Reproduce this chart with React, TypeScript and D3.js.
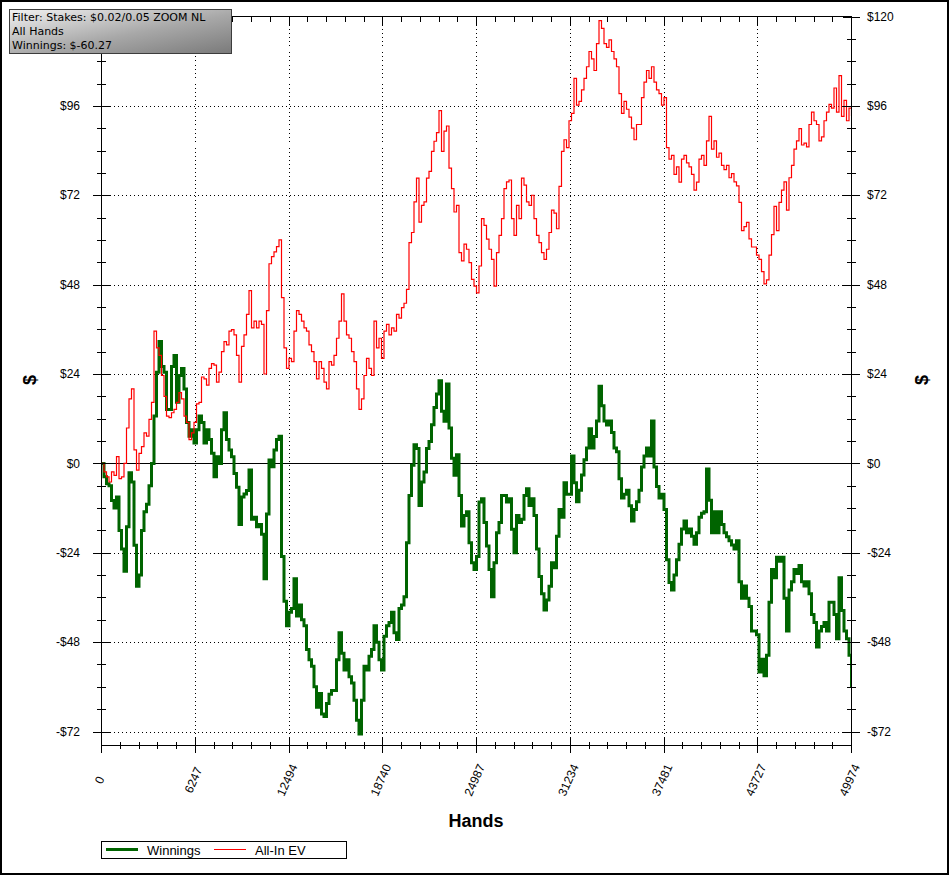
import React from "react";
import * as d3 from "d3";

const TOTAL_HANDS = 49974;
const X_TICKS = [0, 6247, 12494, 18740, 24987, 31234, 37481, 43727, 49974];
const Y_TICKS = [-72, -48, -24, 0, 24, 48, 72, 96, 120];

const WINNINGS = [
  0,
  -3.6, -5.5, -6, -10, -12, -9, -18, -23, -29, -17, -2.5, -5, -22, -33, -30, -18, -13, -11, -6, 0,
  12.7, 24.5, 32.7, 26, 24.5, 14.5, 14.5, 26, 29, 16.4, 23.6, 25.5, 20, 11, 7.3, 9, 5.5, 9, 12.7, 11,
  5.5, 9, 6.4, 2.7, -3.6, 1.8, 0, 9, 13.6, 6.4, 3.6, 1.8, -2.7, -6.4, -16.4, -9, -8.2, -7.3, -1.8, -15,
  -14.5, -17, -16.4, -19, -31, -13.6, 0.9, -0.9, 3.6, 6.4, 7.3, -25, -37, -43.6, -40, -39, -31, -41, -38, -42,
  -43.6, -50, -52.7, -54.5, -60, -65.5, -61.8, -67.3, -68, -64.5, -62, -61, -61, -52.7, -45.5, -51, -55.5, -52.7, -57.3, -59,
  -63.6, -69, -72.7, -63.6, -54.5, -55.5, -51.8, -50, -43.6, -48, -52.7, -55.5, -46.4, -43.6, -42.7, -40, -45.5, -47.3, -39, -38,
  -35.8, -21.3, -8.6, -0.5, 5, 4, -11.3, -5, -2.3, 4, 5.9, 10.4, 15, 18.6, 22.2, 14, 11.3, 21.3, 9.5, 1.4,
  -3.2, 2.3, -8.6, -16.8, -14, -13, -21.3, -26.7, -28.5, -25, -10.4, -9.5, -15.9, -22.2, -28.5, -35.8, -26.7, -18.6, -15.9, -8.6,
  -8.6, -10.4, -9.5, -17.7, -24, -14, -15.9, -15, -8.6, -6.8, -11.3, -9.5, -14, -23, -30.4, -35, -39.4, -36.7, -33, -26.7,
  -28, -19.6, -12.4, -14.5, -5.2, -8.3, -8.3, 2, -5.2, -10.3, -7.2, -3.1, 1, 4.1, 9.3, 4.1, 7.2, 11.4, 20.7, 15.5,
  11.4, 10.3, 11.4, 8.3, 4.1, 3.1, -4.1, -9.3, -8.3, -7.2, -11.4, -15.5, -12.4, -10.3, -7.2, -1, 2, 4.1, 2, 11.4,
  -1, -6.2, -9.3, -8.3, -12.4, -25.9, -32, -34, -30, -25.9, -21.7, -17.6, -15.5, -18.6, -17.6, -19.6, -21.7, -18.6, -14.5, -13.4,
  -13, -1.5, -9.9, -18.6, -13, -18.6, -13, -16.4, -18.6, -19.7, -20.8, -21.9, -23, -20.8, -31.8, -36.2, -32.9, -36.2, -38.4, -45,
  -45, -46, -56, -52.6, -57, -51.5, -37.3, -28.5, -30.7, -25.2, -26.3, -25.2, -36.2, -45, -34, -31.8, -28.5, -29.6, -27.4, -31.8,
  -32.9, -31.8, -35, -40.6, -42.7, -49.3, -45, -43.8, -42.7, -45, -37.3, -37.3, -40.6, -47.1, -30.7, -39.5, -45, -47.1, -51.5, -60.27,
];

const ALLIN_EV = [
  0,
  -2.3, -3.6, -5, -2.3, -3.2, 1.8, -4.1, -3.6, 0, 9.5, 17.3, 20, 3.6, -1.8, 2.7, 4.5, 8.2, 7.3, 11.8, 16.4,
  35.5, 31, 29, 23.6, 18, 12.7, 12.3, 13.6, 14.5, 16.4, 19, 17.3, 12.7, 11, 6.4, 8.2, 11, 16, 16.4, 23.2,
  22.7, 21, 25.5, 26.8, 26.4, 21.8, 24.5, 30, 32.7, 31.8, 35.5, 35.9, 34.5, 29, 21.8, 31.4, 34.5, 40, 46.4, 36.4,
  38.2, 36.4, 38.2, 37.3, 24, 41, 53.6, 55.5, 56.8, 58.2, 60, 44.5, 31, 25.5, 28.2, 27.3, 35.5, 41, 40, 38.2,
  36.4, 35.5, 31.8, 30, 27.3, 22.7, 27.3, 25.5, 21.8, 20, 27.3, 26.4, 29, 33.6, 38.2, 45.5, 38.2, 34.5, 33.6, 30,
  27.3, 20, 14.5, 17.3, 23.6, 28.2, 25.5, 23.6, 38.2, 31, 33.6, 28.2, 35.5, 37.3, 34.5, 36.4, 35.5, 40, 39, 41.8,
  43, 46.7, 59.3, 62, 70.2, 76.6, 64.8, 69.3, 70.2, 76.6, 78.4, 83.8, 86.5, 88.8, 94.7, 83.8, 89.2, 90.6, 79.3, 73.8,
  67.5, 69.3, 56.6, 54.4, 58.9, 57.5, 53.9, 49.4, 47.6, 45.8, 53, 65.7, 63.9, 60.2, 57.5, 54.8, 47.6, 56.6, 61.2, 65.7,
  73.8, 75.6, 76.1, 65.7, 61.2, 69.3, 65.7, 76.6, 74.7, 70.2, 69.3, 72, 65.7, 61.2, 59.3, 56.6, 54.8, 57.5, 62, 68,
  67.2, 63, 74.4, 83.8, 86.9, 84.8, 92, 94, 103.4, 96.2, 97.2, 100.3, 103.4, 106.5, 110.6, 108.6, 105.5, 112.7, 118.9, 116.8,
  112.7, 111.7, 113.7, 110.6, 108.6, 106.5, 99.3, 94, 97.2, 95.1, 93, 90, 86.9, 91, 91, 98.2, 102.4, 105.5, 103.4, 106.5,
  102.4, 100.3, 99.3, 96.2, 98.2, 84.8, 81.7, 82.7, 77.6, 79.6, 75.5, 81.7, 82.7, 80.7, 79.6, 77.6, 73.4, 75.5, 81.7, 82.7,
  80, 86.6, 93.2, 84.4, 86.6, 82.2, 83.3, 80, 78.9, 80, 76.7, 77.8, 75.6, 74.5, 70.1, 62.5, 63.6, 64.7, 60.3, 58.1,
  58.1, 55.9, 54.8, 51.5, 48.2, 49.3, 55.9, 61.4, 69, 62.5, 70.1, 73.4, 75.6, 68, 76.7, 80, 84.4, 86.6, 89.9, 85.5,
  86, 85, 91, 94.3, 92, 91, 86.6, 87.7, 92, 94.3, 96.4, 95.4, 100.8, 94.3, 104.1, 93.2, 97.5, 92, 95.4, 93.2,
];

const FILTER_LINES = ["Filter: Stakes: $0.02/0.05 ZOOM NL", "All Hands", "Winnings: $-60.27"];
const LEGEND = [
  { name: "Winnings", color: "#006400", width: 3 },
  { name: "All-In EV", color: "#ff0000", width: 1 },
];

const LEFT = 101.5;
const RIGHT = 851.5;
const TOP = 16.5;
const BOTTOM = 745.5;
const FONT = "'Liberation Sans', Arial, sans-serif";

export default function App() {
  const x = d3.scaleLinear().domain([0, TOTAL_HANDS]).range([LEFT, RIGHT]);
  const y = d3.scaleLinear().domain([-72, 120]).range([731.5, TOP]);

  const mkLine = (arr: number[]) => {
    const step = TOTAL_HANDS / (arr.length - 1);
    return (
      d3
        .line<number>()
        .x((_, i) => x(i * step))
        .y((d) => y(d))
        .curve(d3.curveStepAfter)(arr) || ""
    );
  };

  const yMinor = d3.range(-72, 121, 6);
  const xMinor = d3.range(0, 41).map((k) => (k * TOTAL_HANDS) / 40);
  const fmtY = (v: number) => (v < 0 ? `-$${-v}` : `$${v}`);
  const yr = (v: number) => Math.round(y(v)) + 0.5;
  const xr = (v: number) => Math.round(x(v) - 0.5) + 0.5;

  return (
    <svg
      width={952}
      height={876}
      style={{ position: "absolute", left: 0, top: 0, background: "#fff" }}
      fontFamily={FONT}
    >
      <defs>
        <linearGradient id="fg" x1="0" y1="0" x2="1" y2="1">
          <stop offset="0" stopColor="#f2f2f2" />
          <stop offset="0.55" stopColor="#a8a8a8" />
          <stop offset="1" stopColor="#7a7a7a" />
        </linearGradient>
        <clipPath id="plot">
          <rect x={LEFT} y={TOP - 4} width={RIGHT - LEFT} height={BOTTOM - TOP + 4} />
        </clipPath>
      </defs>
      <rect x={0} y={0} width={952} height={876} fill="#fff" />
      <rect x={1} y={1} width={947} height={873} fill="none" stroke="#000" strokeWidth={2} />

      {/* grid */}
      <g stroke="#000" strokeWidth={1} strokeDasharray="1,3" shapeRendering="crispEdges">
        {Y_TICKS.filter((v) => v !== 0 && v !== 120).map((v) => (
          <line key={"gy" + v} x1={LEFT} x2={RIGHT} y1={yr(v)} y2={yr(v)} />
        ))}
        {X_TICKS.slice(1, -1).map((v) => (
          <line key={"gx" + v} x1={xr(v)} x2={xr(v)} y1={TOP} y2={BOTTOM} />
        ))}
      </g>
      {/* zero line */}
      <line x1={LEFT} x2={RIGHT} y1={yr(0)} y2={yr(0)} stroke="#000" strokeWidth={1} shapeRendering="crispEdges" />

      {/* series */}
      <g clipPath="url(#plot)">
        <path d={mkLine(WINNINGS)} fill="none" stroke="#006400" strokeWidth={3} strokeLinejoin="miter" />
        <path d={mkLine(ALLIN_EV)} fill="none" stroke="#ff0000" strokeWidth={1.2} />
      </g>

      {/* axes */}
      <g stroke="#000" strokeWidth={1} shapeRendering="crispEdges">
        <line x1={LEFT} x2={LEFT} y1={TOP} y2={BOTTOM} />
        <line x1={RIGHT} x2={RIGHT} y1={TOP} y2={BOTTOM} />
        <line x1={LEFT} x2={RIGHT} y1={TOP} y2={TOP} />
        <line x1={LEFT} x2={RIGHT} y1={BOTTOM} y2={BOTTOM} />
        {yMinor.map((v) => {
          const major = v % 24 === 0;
          return (
            <g key={"ty" + v}>
              <line x1={major ? 93 : 97} x2={major ? 110 : 106} y1={yr(v)} y2={yr(v)} />
              <line x1={major ? 843 : 847} x2={major ? 860 : 856} y1={yr(v)} y2={yr(v)} />
            </g>
          );
        })}
        {xMinor.map((v, k) => {
          const major = k % 5 === 0;
          return (
            <g key={"tx" + k}>
              <line x1={xr(v)} x2={xr(v)} y1={major ? 737 : 742} y2={major ? 753 : 749} />
              <line x1={xr(v)} x2={xr(v)} y1={TOP} y2={major ? TOP + 8 : TOP + 5} />
            </g>
          );
        })}
      </g>

      {/* tick labels */}
      <g fontSize={12} fill="#000">
        {Y_TICKS.map((v) => (
          <g key={"ly" + v}>
            {v !== 120 && (
              <text x={80} y={y(v)} dy="0.35em" textAnchor="end">
                {fmtY(v)}
              </text>
            )}
            <text x={867} y={y(v)} dy="0.35em" textAnchor="start">
              {fmtY(v)}
            </text>
          </g>
        ))}
        {X_TICKS.map((v) => (
          <text
            key={"lx" + v}
            transform={`translate(${x(v) - 2},780) rotate(-66)`}
            textAnchor="middle"
            dy="0.35em"
          >
            {v}
          </text>
        ))}
      </g>

      {/* axis titles */}
      <text x={476} y={827} textAnchor="middle" fontSize={18} fontWeight="bold">
        Hands
      </text>
      <text transform="translate(30,380) rotate(-90)" textAnchor="middle" dy="0.35em" fontSize={18} fontWeight="bold">
        $
      </text>
      <text transform="translate(922,380) rotate(-90)" textAnchor="middle" dy="0.35em" fontSize={18} fontWeight="bold">
        $
      </text>

      {/* legend */}
      <g>
        <rect x={101.5} y={841.5} width={245} height={17} fill="#fff" stroke="#000" strokeWidth={1} shapeRendering="crispEdges" />
        {LEGEND.map((s, i) => {
          const x0 = 106 + i * 108;
          return (
            <g key={s.name}>
              <line x1={x0} x2={x0 + 32} y1={849.5} y2={849.5} stroke={s.color} strokeWidth={s.width} />
              <text x={x0 + 41} y={855} fontSize={13}>
                {s.name}
              </text>
            </g>
          );
        })}
      </g>

      {/* filter box */}
      <g>
        <rect x={9.5} y={9.5} width={222} height={44} fill="url(#fg)" stroke="#3c3c3c" strokeWidth={1} />
        {FILTER_LINES.map((t, i) => (
          <text key={t} x={12} y={21 + i * 14.2} fontSize={11} fontFamily="'DejaVu Sans', Verdana, sans-serif" fill="#000">
            {t}
          </text>
        ))}
      </g>
    </svg>
  );
}
